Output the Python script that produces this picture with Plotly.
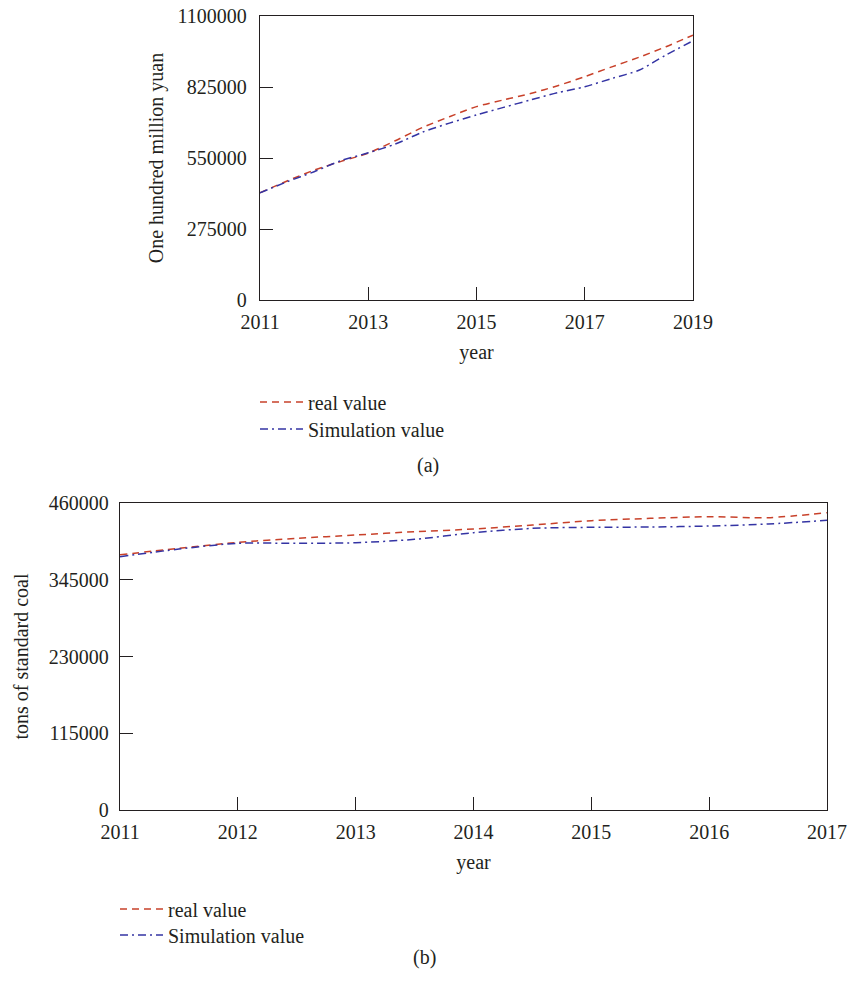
import plotly.graph_objects as go

# ---------------- data ----------------
years_a = [2011, 2011.5, 2012, 2012.5, 2013, 2013.5, 2014, 2014.5, 2015,
           2015.5, 2016, 2016.5, 2017, 2017.5, 2018, 2018.5, 2019]
real_a = [415000, 461000, 503000, 537000, 569000, 617000, 668000, 710000, 749000,
          775000, 800000, 830000, 865000, 903000, 940000, 981000, 1026000]
sim_a = [415000, 458000, 497000, 540000, 570000, 604000, 650000, 685000, 717000,
         746000, 775000, 803000, 826000, 858000, 890000, 949000, 1004000]

years_b = [2011, 2011.5, 2012, 2012.5, 2013, 2013.5, 2014, 2014.5, 2015,
           2015.5, 2016, 2016.5, 2017]
real_b = [382500, 392000, 401000, 407000, 412000, 417000, 421000, 427000, 433500,
          437000, 439500, 438000, 445500]
sim_b = [379500, 391000, 399600, 399600, 400500, 405600, 415500, 422000, 423600,
         424000, 425500, 428500, 434000]

xticks_a = [2011, 2013, 2015, 2017, 2019]
yticks_a = [0, 275000, 550000, 825000, 1100000]
xticks_b = [2011, 2012, 2013, 2014, 2015, 2016, 2017]
yticks_b = [0, 115000, 230000, 345000, 460000]

label_real = "real value"
label_sim = "Simulation value"
title_a = "One hundred million yuan"
title_b = "tons of standard coal"
xtitle = "year"

# ---------------- style ----------------
W, H = 849, 989
FONT = "Liberation Serif"
RED = "#c8412a"
BLUE = "#3434a4"
AX = "#231f20"
DASH_RED = "7px,5px"
DASH_BLUE = "8px,4px,2px,4px"


def px_x(p):
    return p / W


def px_y(p):
    return 1 - p / H


fig = go.Figure()

fig.add_trace(go.Scatter(x=years_a, y=real_a, mode="lines", name=label_real,
                         line=dict(color=RED, width=1.5, dash=DASH_RED, shape="spline", smoothing=0.8),
                         xaxis="x", yaxis="y", legend="legend"))
fig.add_trace(go.Scatter(x=years_a, y=sim_a, mode="lines", name=label_sim,
                         line=dict(color=BLUE, width=1.5, dash=DASH_BLUE, shape="spline", smoothing=0.8),
                         xaxis="x", yaxis="y", legend="legend2"))
fig.add_trace(go.Scatter(x=years_b, y=real_b, mode="lines", name=label_real,
                         line=dict(color=RED, width=1.5, dash=DASH_RED, shape="spline", smoothing=0.8),
                         xaxis="x2", yaxis="y2", legend="legend3"))
fig.add_trace(go.Scatter(x=years_b, y=sim_b, mode="lines", name=label_sim,
                         line=dict(color=BLUE, width=1.5, dash=DASH_BLUE, shape="spline", smoothing=0.8),
                         xaxis="x2", yaxis="y2", legend="legend4"))

axis_common = dict(showline=True, mirror=True, linecolor=AX, linewidth=1.3,
                   ticks="inside", ticklen=13, tickwidth=1.3, tickcolor=AX,
                   showgrid=False, zeroline=False, automargin=False,
                   ticklabeloverflow="allow",
                   tickfont=dict(family=FONT, size=20, color=AX))

fig.update_layout(
    width=W, height=H,
    margin=dict(l=0, r=0, t=0, b=0),
    paper_bgcolor="white", plot_bgcolor="white",
    font=dict(family=FONT, size=20, color=AX),
    xaxis=dict(domain=[px_x(260), px_x(693)], range=[2011, 2019], tickmode="array",
               tickvals=xticks_a, anchor="y", ticklabelstandoff=4,
               title=dict(text=xtitle, font=dict(family=FONT, size=20, color=AX), standoff=12),
               **axis_common),
    yaxis=dict(domain=[px_y(300), px_y(16)], range=[0, 1100000], tickmode="array",
               tickvals=yticks_a, tickformat="d", anchor="x", ticklabelstandoff=8,
               title=dict(text=title_a, font=dict(family=FONT, size=20, color=AX), standoff=8),
               **axis_common),
    xaxis2=dict(domain=[px_x(120), px_x(827)], range=[2011, 2017], tickmode="array",
                tickvals=xticks_b, anchor="y2", ticklabelstandoff=4,
                title=dict(text=xtitle, font=dict(family=FONT, size=20, color=AX), standoff=12),
                **axis_common),
    yaxis2=dict(domain=[px_y(810), px_y(503)], range=[0, 460000], tickmode="array",
                tickvals=yticks_b, tickformat="d", anchor="x2", ticklabelstandoff=6,
                title=dict(text=title_b, font=dict(family=FONT, size=20, color=AX), standoff=14),
                **axis_common),
    showlegend=True,
)

leg_common = dict(xanchor="left", yanchor="middle", bgcolor="rgba(0,0,0,0)",
                  borderwidth=0, font=dict(family=FONT, size=20, color=AX), itemwidth=43)
fig.update_layout(
    legend=dict(x=px_x(255), y=px_y(402), **leg_common),
    legend2=dict(x=px_x(255), y=px_y(429), **leg_common),
    legend3=dict(x=px_x(115), y=px_y(909), **leg_common),
    legend4=dict(x=px_x(115), y=px_y(935), **leg_common),
)

fig.add_annotation(text="(a)", x=px_x(428), y=px_y(466), xref="paper", yref="paper",
                   showarrow=False, font=dict(family=FONT, size=20, color=AX))
fig.add_annotation(text="(b)", x=px_x(424), y=px_y(971), xref="paper", yref="paper",
                   showarrow=False, font=dict(family=FONT, size=20, color=AX))

# remove the page's default body margin so the figure fills the window exactly
fig.write_html("out.html",
               config={"displayModeBar": False},
               post_script="document.body.style.margin='0';document.body.style.overflow='hidden';")
